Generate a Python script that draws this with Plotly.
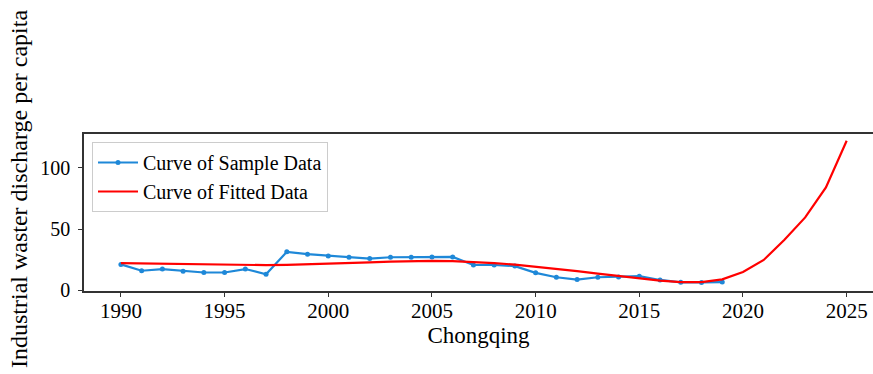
import plotly.graph_objects as go

sample_years = list(range(1990, 2020))
sample_values = [21.2, 16.0, 17.4, 15.7, 14.6, 14.6, 17.4, 13.2, 31.4, 29.5,
                 28.1, 27.0, 25.9, 27.0, 27.0, 27.3, 27.3, 20.7, 20.7, 19.8,
                 14.3, 10.7, 8.8, 10.7, 10.9, 11.6, 8.5, 6.6, 6.5, 6.8]

fitted_years = list(range(1990, 2026))
fitted_values = [22.3, 22.0, 21.6, 21.2, 20.9, 20.7, 20.6, 20.6, 20.8, 21.2,
                 21.7, 22.3, 22.9, 23.5, 23.9, 24.1, 23.9, 23.3, 22.3, 21.0,
                 19.4, 17.6, 15.7, 13.6, 11.6, 9.6, 7.9, 6.7, 6.8, 9.0,
                 15.0, 24.8, 41.3, 59.5, 84.0, 122.0]

x_ticks = [1990, 1995, 2000, 2005, 2010, 2015, 2020, 2025]
y_ticks = [0, 50, 100]

FONT = "Liberation Serif"
W, H = 873, 374
L, R, T, B = 84, 0, 134, 83

fig = go.Figure()
fig.add_trace(go.Scatter(
    x=sample_years, y=sample_values, mode="lines+markers",
    name="Curve of Sample Data",
    line=dict(color="#1e88d8", width=2.2),
    marker=dict(color="#1e88d8", size=5),
))
fig.add_trace(go.Scatter(
    x=fitted_years, y=fitted_values, mode="lines",
    name="Curve of Fitted Data",
    line=dict(color="#ff0000", width=2.2),
))

plot_h = H - T - B
plot_w = W - L - R
fig.add_annotation(
    text="Industrial waster discharge per capita",
    textangle=-90, showarrow=False,
    xref="paper", yref="paper",
    x=(19 - L) / plot_w, y=1 - (189 - T) / plot_h,
    xanchor="center", yanchor="middle",
    font=dict(family=FONT, size=24, color="black"),
)

fig.update_layout(
    width=W, height=H,
    margin=dict(l=L, r=R, t=T, b=B, autoexpand=False),
    paper_bgcolor="white", plot_bgcolor="white",
    font=dict(family=FONT, size=20, color="black"),
    showlegend=True,
    legend=dict(
        x=(92 - L) / plot_w, y=1 - (142 - T) / plot_h,
        xanchor="left", yanchor="top",
        bgcolor="white", bordercolor="#cccccc", borderwidth=1,
        font=dict(family=FONT, size=20, color="black"),
        tracegroupgap=0, itemwidth=40,
    ),
    xaxis=dict(
        range=[1988.22, 2026.27], tickvals=x_ticks, automargin=False,
        showgrid=False, zeroline=False,
        showline=True, linecolor="#333333", linewidth=1.5, mirror=True,
        ticks="outside", ticklen=4, tickcolor="#333333",
        tickfont=dict(family=FONT, size=21), ticklabelstandoff=-4,
        title=dict(text="Chongqing", font=dict(family=FONT, size=23), standoff=2),
    ),
    yaxis=dict(
        range=[-0.5, 127.5], tickvals=y_ticks, automargin=False,
        showgrid=False, zeroline=False,
        showline=True, linecolor="#333333", linewidth=1.5, mirror=True,
        ticks="outside", ticklen=4, tickcolor="#333333",
        tickfont=dict(family=FONT, size=20), ticklabelstandoff=4,
    ),
)

fig.write_html(
    "out.html",
    config={"displayModeBar": False},
    post_script="document.body.style.margin='0';document.body.style.overflow='hidden';",
)
